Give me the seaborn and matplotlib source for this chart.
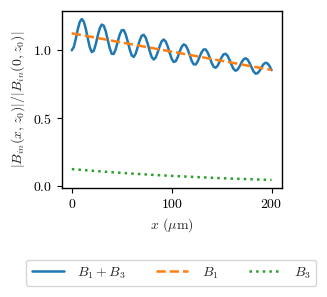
import numpy as np
import pandas as pd
import matplotlib
matplotlib.use("Agg")
import matplotlib.pyplot as plt
import seaborn as sns

# Data
x_fine = list(range(0, 201, 2))
b1_plus_b3 = [1.000, 1.024, 1.084, 1.155, 1.209, 1.230, 1.211, 1.159, 1.087, 1.022, 0.987, 0.996, 1.044, 1.108, 1.162, 1.189, 1.181, 1.140, 1.077, 1.015, 0.974, 0.973, 1.008, 1.064, 1.116, 1.148, 1.148, 1.117, 1.064, 1.006, 0.962, 0.951, 0.976, 1.023, 1.072, 1.107, 1.114, 1.093, 1.048, 0.994, 0.950, 0.932, 0.946, 0.985, 1.030, 1.066, 1.079, 1.065, 1.029, 0.981, 0.937, 0.914, 0.919, 0.949, 0.990, 1.025, 1.043, 1.036, 1.008, 0.966, 0.923, 0.897, 0.895, 0.917, 0.952, 0.986, 1.006, 1.006, 0.984, 0.948, 0.908, 0.879, 0.871, 0.886, 0.916, 0.948, 0.970, 0.974, 0.959, 0.928, 0.892, 0.862, 0.849, 0.858, 0.882, 0.911, 0.933, 0.941, 0.932, 0.906, 0.874, 0.844, 0.828, 0.831, 0.849, 0.875, 0.898, 0.908, 0.903, 0.883, 0.854]
x_coarse = list(range(0, 201, 20))
b1 = [1.125, 1.098, 1.071, 1.044, 1.017, 0.990, 0.963, 0.936, 0.909, 0.882, 0.855]
b3 = [0.125, 0.113, 0.102, 0.092, 0.083, 0.075, 0.068, 0.061, 0.055, 0.050, 0.045]
labels = [r"$B_1+B_3$", r"$B_1$", r"$B_3$"]
xticks = [0, 100, 200]
yticks = [0.0, 0.5, 1.0]

sns.set_style("ticks")
plt.rcParams.update({
    "font.family": "serif",
    "font.serif": ["cmr10"],
    "mathtext.fontset": "cm",
    "axes.formatter.use_mathtext": True,
    "font.size": 10,
    "axes.edgecolor": "black",
    "xtick.color": "black",
    "ytick.color": "black",
    "axes.linewidth": 1.0,
    "xtick.major.size": 3.5,
    "ytick.major.size": 3.5,
})

fig = plt.figure(figsize=(3.27, 2.97), dpi=100)
ax = fig.add_axes([0.189, 0.367, 0.672, 0.596])

pal = sns.color_palette("tab10")
sns.lineplot(x=x_fine, y=b1_plus_b3, ax=ax, color=pal[0], linewidth=1.8, label=labels[0])
sns.lineplot(x=x_coarse, y=b1, ax=ax, color=pal[1], linewidth=1.8, linestyle="--", label=labels[1])
sns.lineplot(x=x_coarse, y=b3, ax=ax, color=pal[2], linewidth=1.8, linestyle=":", label=labels[2])

ax.set_xticks(xticks)
ax.set_yticks(yticks)
ax.set_xlabel(r"$x$ ($\mu$m)")
ax.set_ylabel(r"$|B_{in}(x,z_0)|/|B_{in}(0,z_0)|$")
for s in ax.spines.values():
    s.set_visible(True)

h, l = ax.get_legend_handles_labels()
ax.legend_.remove()
fig.legend(h, l, loc="center", bbox_to_anchor=(0.524, 0.081), ncol=3,
           handlelength=2.3, handletextpad=0.95, columnspacing=2.2, frameon=True)

fig.savefig("out.png", dpi=100)
